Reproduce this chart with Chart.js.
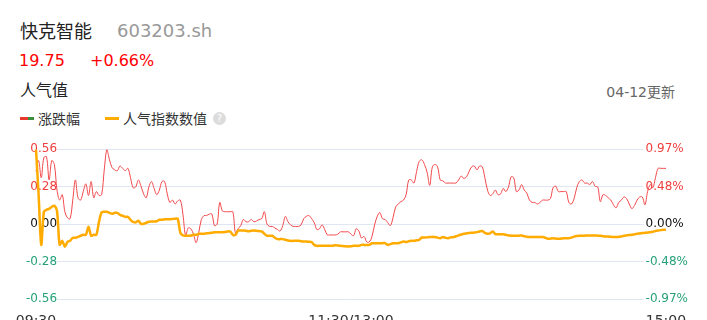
<!DOCTYPE html>
<html lang="zh">
<head>
<meta charset="utf-8">
<title>快克智能 人气值</title>
<script src="https://cdn.jsdelivr.net/npm/chart.js@4.4.1/dist/chart.umd.min.js"></script>
<style>
    html, body {
        margin: 0;
        padding: 0;
        background: #fff;
    }
    body {
        position: relative;
        width: 707px;
        height: 320px;
        overflow: hidden;
        font-family: 'DejaVu Sans', 'Noto Sans CJK SC', sans-serif;
        color: #333;
    }
    .abs {
        position: absolute;
        white-space: nowrap;
    }
    .name { left: 20px; top: 20px; font-size: 18px; line-height: 24px; color: #222; }
    .code { left: 117px; top: 19px; font-size: 18px; line-height: 24px; color: #999; }
    .price { left: 19px; top: 51px; font-size: 16px; line-height: 20px; color: #f00; }
    .change { left: 90px; top: 51px; font-size: 16px; line-height: 20px; color: #f00; }
    .title { left: 20px; top: 81px; font-size: 16px; line-height: 20px; color: #222; }
    .updated { right: 32px; top: 83px; font-size: 14px; line-height: 18px; color: #666; }
    .legend-text { top: 110px; font-size: 14px; line-height: 18px; color: #333; }
    .swatch { top: 117px; height: 3px; }
    .help {
        left: 213px; top: 112px; width: 13px; height: 13px; border-radius: 50%;
        background: #dcdcdc; color: #fff; font-size: 10px; line-height: 13px; text-align: center;
    }
    .chart-box {
        position: absolute;
        left: 0;
        top: 130px;
        width: 707px;
        height: 214px;
    }
</style>
</head>
<body>
<div class="abs name">快克智能</div>
<div class="abs code">603203.sh</div>
<div class="abs price">19.75</div>
<div class="abs change">+0.66%</div>
<div class="abs title">人气值</div>
<div class="abs updated">04-12更新</div>

<div class="abs swatch" style="left:20px;width:8px;background:#e8392f;"></div>
<div class="abs swatch" style="left:28px;width:6px;background:#3b8e3b;"></div>
<div class="abs legend-text" style="left:38px;">涨跌幅</div>
<div class="abs swatch" style="left:105px;width:14px;background:#ffab00;"></div>
<div class="abs legend-text" style="left:123px;">人气指数数值</div>
<div class="abs help">?</div>

<div class="chart-box"><canvas id="heatChart"></canvas></div>

<script>
// Minutes since 09:30 (lunch break removed), one value per minute
const changePct = [
    0.68, 0.82, 0.60, 0.86, 0.87, 0.57, 0.82, 0.77, 0.44, 0.31,
    0.38, 0.16, 0.08, 0.07, 0.31, 0.57, 0.34, 0.31, 0.42, 0.52,
    0.37, 0.55, 0.34, 0.42, 0.37, 0.38, 0.70, 0.96, 0.83, 0.73,
    0.70, 0.69, 0.75, 0.72, 0.69, 0.72, 0.60, 0.47, 0.48, 0.57,
    0.49, 0.39, 0.34, 0.48, 0.55, 0.46, 0.38, 0.44, 0.55, 0.55,
    0.39, 0.28, 0.31, 0.26, 0.30, 0.31, 0.12, -0.15, -0.05, -0.06,
    -0.13, -0.24, -0.11, 0.06, 0.11, 0.11, 0.13, 0.13, -0.02, 0.00,
    0.28, 0.17, 0.16, 0.16, 0.16, 0.16, -0.12, -0.06, -0.02, 0.06,
    0.03, 0.03, 0.06, 0.03, 0.04, 0.06, 0.07, 0.16, 0.00, -0.03,
    -0.03, -0.05, -0.07, -0.09, -0.02, 0.10, 0.03, -0.01, -0.03, -0.03,
    -0.03, -0.01, 0.07, 0.10, 0.11, 0.07, 0.02, -0.07, -0.06, -0.01,
    -0.07, -0.14, -0.14, -0.14, -0.14, -0.13, -0.10, -0.10, -0.10, -0.10,
    -0.13, -0.15, -0.06, -0.09, -0.18, -0.16, -0.23, -0.23, -0.16, -0.01,
    0.10, 0.15, 0.07, 0.06, 0.02, -0.02, 0.08, 0.22, 0.26, 0.29,
    0.31, 0.38, 0.57, 0.57, 0.53, 0.68, 0.81, 0.83, 0.77, 0.67,
    0.50, 0.74, 0.77, 0.74, 0.57, 0.56, 0.53, 0.53, 0.53, 0.53,
    0.53, 0.57, 0.62, 0.59, 0.61, 0.68, 0.74, 0.75, 0.70, 0.75,
    0.74, 0.60, 0.44, 0.37, 0.39, 0.44, 0.38, 0.39, 0.46, 0.42,
    0.48, 0.61, 0.60, 0.42, 0.44, 0.51, 0.44, 0.40, 0.31, 0.28,
    0.28, 0.26, 0.28, 0.31, 0.31, 0.31, 0.33, 0.47, 0.49, 0.42,
    0.42, 0.42, 0.42, 0.28, 0.26, 0.33, 0.47, 0.55, 0.57, 0.53,
    0.53, 0.51, 0.55, 0.49, 0.48, 0.29, 0.38, 0.37, 0.34, 0.31,
    0.25, 0.21, 0.28, 0.31, 0.35, 0.33, 0.26, 0.20, 0.24, 0.31,
    0.35, 0.35, 0.25, 0.42, 0.51, 0.47, 0.60, 0.72, 0.72, 0.72,
    0.72
];

const heatIndex = [
    0.555, 0.219, -0.154, 0.092, 0.107, 0.114, 0.129, 0.137, 0.099, -0.154,
    -0.125, -0.169, -0.132, -0.125, -0.102, -0.102, -0.095, -0.087, -0.080, -0.080,
    -0.020, -0.087, -0.080, -0.080, 0.017, 0.087, 0.092, 0.092, 0.084, 0.077,
    0.084, 0.084, 0.069, 0.062, 0.054, 0.054, 0.032, 0.017, 0.013, 0.025,
    0.002, 0.002, 0.010, 0.017, 0.019, 0.019, 0.021, 0.032, 0.032, 0.036,
    0.037, 0.037, 0.038, 0.040, 0.040, -0.065, -0.084, -0.087, -0.087, -0.085,
    -0.080, -0.080, -0.072, -0.072, -0.072, -0.069, -0.067, -0.065, -0.061, -0.060,
    -0.060, -0.060, -0.059, -0.056, -0.055, -0.080, -0.080, -0.048, -0.048, -0.048,
    -0.050, -0.054, -0.050, -0.048, -0.050, -0.052, -0.055, -0.072, -0.087, -0.087,
    -0.087, -0.102, -0.112, -0.112, -0.112, -0.117, -0.122, -0.125, -0.125, -0.125,
    -0.125, -0.128, -0.130, -0.130, -0.132, -0.134, -0.155, -0.162, -0.162, -0.162,
    -0.162, -0.162, -0.162, -0.162, -0.157, -0.160, -0.162, -0.164, -0.166, -0.167,
    -0.166, -0.162, -0.162, -0.162, -0.155, -0.155, -0.155, -0.155, -0.143, -0.142,
    -0.142, -0.142, -0.142, -0.142, -0.155, -0.149, -0.143, -0.142, -0.142, -0.136,
    -0.130, -0.134, -0.128, -0.125, -0.125, -0.121, -0.117, -0.100, -0.100, -0.099,
    -0.097, -0.097, -0.097, -0.101, -0.105, -0.097, -0.102, -0.105, -0.099, -0.097,
    -0.091, -0.084, -0.078, -0.072, -0.069, -0.066, -0.065, -0.063, -0.060, -0.055,
    -0.052, -0.065, -0.072, -0.069, -0.055, -0.075, -0.075, -0.075, -0.076, -0.080,
    -0.085, -0.086, -0.087, -0.087, -0.086, -0.085, -0.090, -0.095, -0.097, -0.097,
    -0.097, -0.097, -0.097, -0.097, -0.102, -0.110, -0.108, -0.105, -0.108, -0.110,
    -0.108, -0.105, -0.105, -0.105, -0.101, -0.093, -0.089, -0.087, -0.087, -0.086,
    -0.085, -0.085, -0.085, -0.085, -0.086, -0.087, -0.090, -0.092, -0.093, -0.095,
    -0.096, -0.097, -0.095, -0.093, -0.087, -0.084, -0.081, -0.080, -0.076, -0.072,
    -0.070, -0.067, -0.065, -0.063, -0.060, -0.057, -0.052, -0.048, -0.045, -0.043,
    -0.043
];

// Axis ticks
const timeTicks = [0, 120, 240];
const timeLabels = ['09:30', '11:30/13:00', '15:00'];
const heatTicks = [-0.56, -0.28, 0, 0.28, 0.56];
const heatLabels = ['-0.56', '-0.28', '0.00', '0.28', '0.56'];
const pctTicks = [-0.97, -0.485, 0, 0.485, 0.97];
const pctLabels = ['-0.97%', '-0.48%', '0.00%', '0.48%', '0.97%'];

const UP = '#f03e3e';
const DOWN = '#26a17a';
const FONT = "'DejaVu Sans', sans-serif";

function signColor(context) {
    const v = context.tick.value;
    if (v > 0) return UP;
    if (v < 0) return DOWN;
    return '#111';
}

function initHeatChart() {
    const ctx = document.getElementById('heatChart');
    if (!ctx) return;

    try {
        const data = {
            datasets: [
                {
                    label: '人气指数数值',
                    data: heatIndex.map((v, i) => ({ x: i, y: v })),
                    yAxisID: 'y',
                    borderColor: '#ffab00',
                    borderWidth: 2.5,
                    tension: 0.3,
                    pointRadius: 0,
                    pointHoverRadius: 0,
                    clip: false
                },
                {
                    label: '涨跌幅',
                    data: changePct.map((v, i) => ({ x: i, y: v })),
                    yAxisID: 'y1',
                    borderColor: '#f2484b',
                    borderWidth: 1,
                    tension: 0.35,
                    pointRadius: 0,
                    pointHoverRadius: 0,
                    clip: false
                }
            ]
        };

        const config = {
            type: 'line',
            data: data,
            options: {
                responsive: true,
                maintainAspectRatio: false,
                animation: false,
                layout: {
                    padding: { left: 26, right: 17, top: 19, bottom: 0 }
                },
                plugins: {
                    legend: { display: false },
                    tooltip: { enabled: false }
                },
                scales: {
                    x: {
                        type: 'linear',
                        bounds: 'data',
                        // the lines run a little past the grid on both sides
                        afterDataLimits: function (scale) {
                            scale.min = 8.02;
                            scale.max = 231.46;
                        },
                        afterBuildTicks: function (scale) {
                            scale.ticks = timeTicks.map(v => ({ value: v }));
                        },
                        grid: { display: false, drawTicks: false },
                        border: { display: false },
                        ticks: {
                            autoSkip: false,
                            maxRotation: 0,
                            padding: 14,
                            color: '#333',
                            font: { size: 14, family: FONT },
                            callback: function (value, index) {
                                return timeLabels[index];
                            }
                        }
                    },
                    y: {
                        position: 'left',
                        min: -0.56,
                        max: 0.56,
                        afterBuildTicks: function (scale) {
                            scale.ticks = heatTicks.map(v => ({ value: v }));
                        },
                        grid: {
                            color: '#e0e6f1',
                            drawTicks: false,
                            z: -2
                        },
                        border: { display: false },
                        ticks: {
                            padding: 0,
                            color: signColor,
                            font: { size: 12, family: FONT },
                            callback: function (value, index) {
                                return heatLabels[index];
                            }
                        }
                    },
                    y1: {
                        position: 'right',
                        min: -0.97,
                        max: 0.97,
                        afterBuildTicks: function (scale) {
                            scale.ticks = pctTicks.map(v => ({ value: v }));
                        },
                        grid: { display: false, drawTicks: false },
                        border: { display: false },
                        ticks: {
                            padding: 2,
                            color: signColor,
                            font: { size: 12, family: FONT },
                            callback: function (value, index) {
                                return pctLabels[index];
                            }
                        }
                    }
                }
            }
        };

        new Chart(ctx, config);
    } catch (error) {
        console.error('Failed to initialize heat chart:', error);
    }
}

if (document.readyState === 'loading') {
    document.addEventListener('DOMContentLoaded', initHeatChart);
} else {
    initHeatChart();
}
</script>
</body>
</html>
